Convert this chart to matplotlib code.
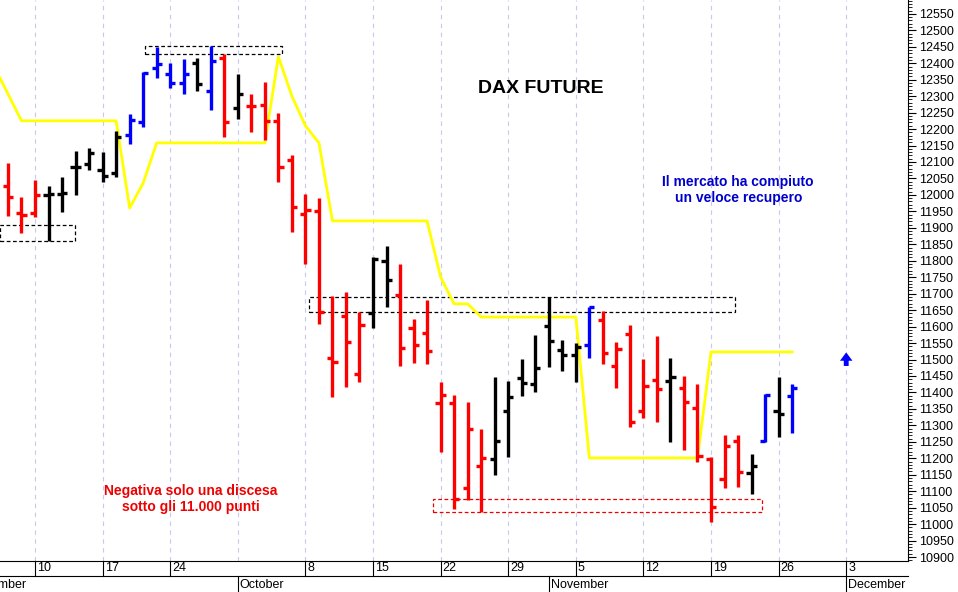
import matplotlib
matplotlib.use("Agg")
import matplotlib.pyplot as plt
from matplotlib.patches import Rectangle
from matplotlib.transforms import blended_transform_factory

plt.rcParams['font.family'] = ['Liberation Sans', 'DejaVu Sans']

# trading-day index (0 = Mon 10 Sep 2018)
idx = list(range(-2, 57))
opens = [12027,11945,11945,12000,12003,12085,12094,12076,12067,12182,12222,12386,12368,12340,12401,12316,12416,12264,12270,12273,12225,12106,11942,11951,11505,11632,11456,11641,11799,11696,11596,11581,11368,11368,11110,11176,11198,11344,11444,11426,11602,11529,11514,11544,11620,11480,11578,11344,11438,11435,11413,11353,11198,11137,11252,11155,11252,11344,11389]
highs = [12097,11994,12046,12027,12055,12134,12143,12131,12194,12246,12374,12450,12401,12413,12416,12453,12428,12368,12307,12343,12249,12121,12003,11991,11693,11705,11644,11812,11845,11790,11623,11681,11432,11392,11371,11289,11447,11435,11502,11575,11690,11559,11550,11660,11647,11553,11605,11502,11571,11505,11450,11426,11204,11271,11271,11213,11395,11447,11426]
lows = [11936,11884,11933,11860,11948,12000,12076,12039,12055,12155,12207,12355,12325,12307,12316,12258,12176,12231,12191,12167,12039,11888,11790,11608,11386,11417,11432,11596,11660,11480,11489,11486,11219,11046,11073,11037,11149,11204,11389,11401,11477,11465,11432,11505,11486,11413,11295,11322,11310,11249,11225,11189,11006,11110,11113,11091,11249,11265,11277]
closes = [11994,11939,12000,12003,12006,12085,12128,12058,12176,12228,12371,12398,12340,12368,12337,12407,12222,12307,12270,12225,12085,11963,11954,11644,11492,11553,11605,11805,11742,11535,11544,11526,11392,11076,11289,11201,11252,11386,11429,11474,11556,11514,11538,11660,11520,11532,11310,11420,11410,11447,11371,11207,11052,11237,11158,11176,11392,11334,11413]
colors = list("rrr" "kkkkkk" "bbbbb" "k" "b" "r" "k" "rrrrrrrrr" "kk" "rrrrrrr" "kkkkkkk" "b" "rrrrr" "k" "rrrrr" "k" "b" "k" "b")

# yellow indicator (per trading-day index)
ind_x = [-2.59,-1,6,7,8,9,17,18,19,20,21,22,29,30,31,32,33,40,41,49,50,56]
ind_y = [12355,12225,12225,11960,12036,12158,12158,12420,12300,12210,12158,11921,11921,11750,11669,11669,11629,11629,11201,11201,11523,11523]

# dashed zones: (x0, x1, y0, y1, colour)
zones = [(-2.59,2.96,11860,11908,'black'),(8.1,18.3,12428,12453,'black'),
         (20.3,51.8,11644,11690,'black'),(29.4,53.8,11037,11076,'#ee0000')]

row1_pos = [0,5,10,20,25,30,35,40,45,50,55,60]
row1_lab = ['10','17','24','8','15','22','29','5','12','19','26','3']
month_pos = [15,38,60]
month_lab = ['October','November','December']

cmap = {'r':'#ff0000','k':'#000000','b':'#0000ff'}

fig = plt.figure(figsize=(9.58,5.92), dpi=100)
ax = fig.add_axes([0, 31/592, 908/958, 561/592])
x0, x1 = -2.59, 64.57
ax.set_xlim(x0, x1)
ax.set_ylim(10888, 12592)

for m in range(-5, 65, 5):
    ax.axvline(m, color='#c8c8f0', lw=0.8, ls=(0,(4,4)), zorder=0)

for (a,b,c,d,col) in zones:
    ax.add_patch(Rectangle((a,c), b-a, d-c, fill=False, ec=col, lw=0.9, ls=(0,(3,2)), zorder=1))

ax.plot(ind_x, ind_y, color='#ffff00', lw=2, zorder=2)

tw = 0.38
for i,o,h,l,c,cl in zip(idx,opens,highs,lows,closes,colors):
    col = cmap[cl]
    ax.vlines(i, l, h, color=col, lw=2.4, zorder=3)
    ax.hlines(o, i-tw, i, color=col, lw=2.4, zorder=3)
    ax.hlines(c, i, i+tw, color=col, lw=2.4, zorder=3)

ax.annotate('', xy=(60,11530), xytext=(60,11472),
            arrowprops=dict(arrowstyle='simple,head_width=0.9,head_length=0.6,tail_width=0.35', color='#0000ff', lw=0))

ax.text(0.596, 0.843, 'DAX FUTURE', transform=ax.transAxes, ha='center', va='center',
        fontsize=14, fontweight='bold', color='black')
ax.text(0.813, 0.662, 'Il mercato ha compiuto\nun veloce recupero', transform=ax.transAxes,
        ha='center', va='center', fontsize=10, fontweight='bold', color='#0000cc', linespacing=1.2)
ax.text(0.21, 0.11, 'Negativa solo una discesa\nsotto gli 11.000 punti', transform=ax.transAxes,
        ha='center', va='center', fontsize=10, fontweight='bold', color='#ee0000', linespacing=1.2)

ax.yaxis.tick_right()
ax.set_yticks(range(10900, 12600, 50))
ax.set_yticks(range(10890, 12600, 10), minor=True)
ax.tick_params(axis='y', which='major', length=6, labelsize=9, pad=2)
ax.tick_params(axis='y', which='minor', length=3)
ax.set_xticks([])
for s in ['top','left']:
    ax.spines[s].set_visible(False)

tr = blended_transform_factory(ax.transData, fig.transFigure)
for p,lab in zip(row1_pos,row1_lab):
    ax.plot([p,p],[31/592,16/592], transform=tr, color='black', lw=0.8, clip_on=False)
    ax.text(p+0.15, 24/592, lab, transform=tr, fontsize=9, va='center', ha='left')
ax.plot([x0,x1],[16/592,16/592], transform=tr, color='black', lw=0.8, clip_on=False)
fig.text(27/958, 7/592, 'September', fontsize=9, va='center', ha='right')
for p,lab in zip(month_pos,month_lab):
    ax.plot([p,p],[16/592,0], transform=tr, color='black', lw=0.8, clip_on=False)
    ax.text(p+0.15, 7/592, lab, transform=tr, fontsize=9, va='center', ha='left')

fig.savefig('out.png', dpi=100)
